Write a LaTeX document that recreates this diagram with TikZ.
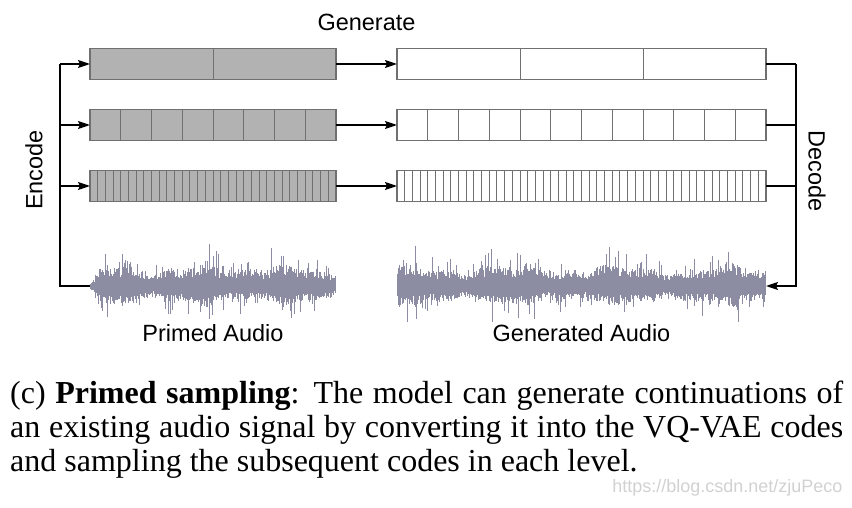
\documentclass[tikz,border=0pt]{standalone}
\usepackage{fontspec}
\setmainfont{Liberation Serif}
\setsansfont{Liberation Sans}
\usetikzlibrary{arrows.meta, positioning, calc}

\definecolor{codegray}{RGB}{178,178,178}
\definecolor{edgegray}{RGB}{112,112,112}
\definecolor{wavecol}{RGB}{140,140,162}

\begin{document}
\begin{tikzpicture}[x=1pt, y=-1pt,
	codes/.style={rectangle, draw=edgegray, line width=1.2pt, fill=codegray, minimum width=246pt, minimum height=31pt, inner sep=0pt, outer sep=0pt},
	newcodes/.style={codes, fill=white, minimum width=369pt},
	cell/.style={draw=edgegray, line width=1pt},
	audio/.style={rectangle, minimum width=246pt, minimum height=60pt, inner sep=0pt, outer sep=0pt},
	wave/.style={draw=wavecol, line width=0.6pt},
	label/.style={font=\sffamily\fontsize{23.5}{26}\selectfont},
	link/.style={line width=1.6pt},
	arrow/.style={-{Stealth[length=12pt, width=8pt, inset=2pt]}, line width=1.6pt}
]
	\useasboundingbox (0,0) rectangle (852,508);

	% Primed codes, one row per level
	\node[codes] (p1) at (213,64) {};
	\node[codes, below=30pt of p1] (p2) {};
	\node[codes, below=30pt of p2] (p3) {};

	% Generated codes
	\node[newcodes, right=61pt of p1] (g1) {};
	\node[newcodes, right=61pt of p2] (g2) {};
	\node[newcodes, right=61pt of p3] (g3) {};

	% Cells
	\foreach \n/\k in {p1/2, p2/8, p3/32, g1/3, g2/12, g3/48} {
		\pgfmathtruncatemacro\m{\k-1}
		\foreach \i in {1,...,\m}
			\draw[cell] ($(\n.north west)!\i/\k!(\n.north east)$) -- ($(\n.south west)!\i/\k!(\n.south east)$);
	}

	% Audio
	\node[audio] (primed) at (213,286) {};
	\node[audio, minimum width=369pt] (generated) at (g3 |- primed) {};

	\pgfmathsetseed{17}
	\foreach \x in {0,0.55,...,245.5} {
		\pgfmathsetmacro\env{(1+0.22*sin(\x*4.1)+0.15*sin(\x*9.7+40))*min(1,(\x+2)/16)}
		\pgfmathsetmacro\up{(8+9*rnd^2+20*rnd^14)*\env}
		\pgfmathsetmacro\dn{(8+8*rnd^2+18*rnd^14)*\env}
		\draw[wave] ([xshift=\x pt]primed.west) ++(0,-\up) -- ++(0,\up+\dn);
	}
	\foreach \x in {0,0.55,...,368.5} {
		\pgfmathsetmacro\env{1+0.2*sin(\x*3.3+70)+0.14*sin(\x*8.9)}
		\pgfmathsetmacro\up{(8+9*rnd^2+20*rnd^14)*\env}
		\pgfmathsetmacro\dn{(8+8*rnd^2+18*rnd^14)*\env}
		\draw[wave] ([xshift=\x pt]generated.west) ++(0,-\up) -- ++(0,\up+\dn);
	}

	% Encode
	\coordinate (enctop) at ($(p1.west)+(-30pt,0)$);
	\draw[link] (primed.west) -| (enctop);
	\foreach \n in {p1,p2,p3}
		\draw[arrow] (enctop |- \n) -- (\n.west);

	% Generate
	\foreach \i in {1,2,3}
		\draw[arrow] (p\i.east) -- (g\i.west);

	% Decode
	\coordinate (dectop) at ($(g1.east)+(30pt,0)$);
	\foreach \n in {g1,g2,g3}
		\draw[link] (\n.east) -- (dectop |- \n);
	\draw[arrow] (dectop) |- (generated.east);

	% Labels
	\node[label] (generate) at (366.5,22) {Generate};
	\node[label, rotate=90] (encode) at (34,170) {Encode};
	\node[label, rotate=-90] (decode) at (817,171) {Decode};
	\node[label, below=5pt of primed] (primedlabel) {Primed Audio};
	\node[label, below=5pt of generated] (generatedlabel) {Generated Audio};

	% Caption
	\node[anchor=north west, inner sep=0pt, text width=833pt, align=justify, font=\fontsize{32}{34}\selectfont] (caption) at (10,381) {(c) \textbf{Primed sampling}: The model can generate continuations of\linebreak an existing audio signal by converting it into the VQ-VAE codes\linebreak and sampling the subsequent codes in each level.};
	\node[anchor=east, font=\sffamily\fontsize{18}{18}\selectfont, text=black!18] (mark) at (846,488) {https://blog.csdn.net/zjuPeco};
\end{tikzpicture}
\end{document}
